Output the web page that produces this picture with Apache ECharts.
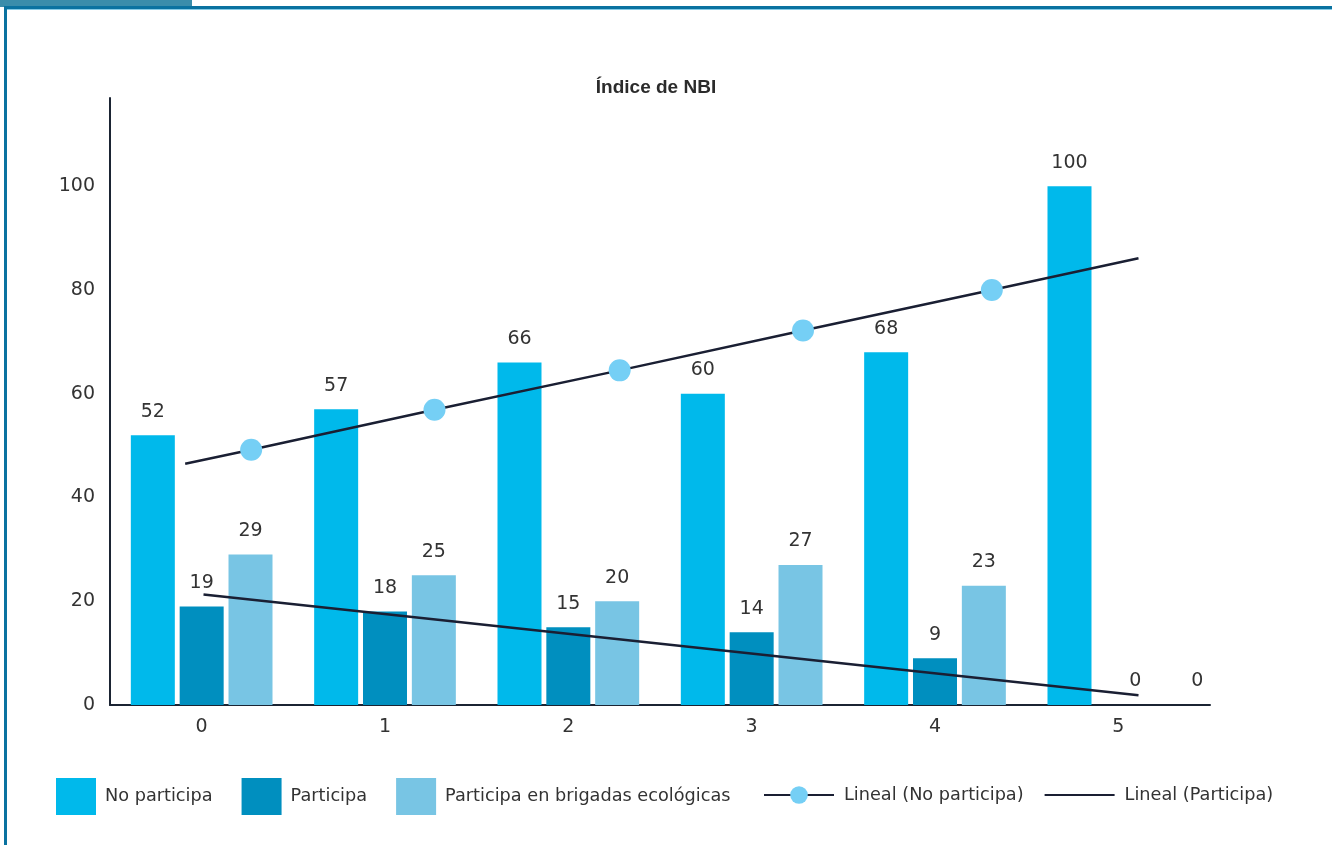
<!DOCTYPE html>
<html>
<head>
<meta charset="utf-8">
<script src="https://cdn.jsdelivr.net/npm/echarts@6/dist/echarts.min.js"></script>
<style>
  html, body { margin: 0; padding: 0; background: #fff; }
  #chart { width: 1332px; height: 845px; }
</style>
</head>
<body>
<div id="chart"></div>
<script>
// categorias del eje x
const categories = ['0', '1', '2', '3', '4', '5']
const noParticipa = [52, 57, 66, 60, 68, 100]
const participa = [19, 18, 15, 14, 9, 0]
const brigadas = [29, 25, 20, 27, 23, 0]
// lineas de tendencia (x en unidades de categoria, y en valor)
const trendNoX = [-0.09, 0.27, 1.27, 2.28, 3.28, 4.31, 5.11]
const trendNoY = [46.5, 49.2, 56.9, 64.5, 72.2, 80.0, 86.1]
const trendPartX = [0.01, 5.11]
const trendPartY = [21.3, 1.9]

const font = '"DejaVu Sans", Roboto, sans-serif'
const textColor = '#333333'
const axisColor = '#1b2433'
const trendColor = '#1a1f33'

const barLabel = {
  show: true,
  position: 'top',
  distance: 14,
  color: textColor,
  fontSize: 19,
  fontFamily: font
}

// el primer y ultimo punto de la tendencia no llevan marcador
const trendNoData = trendNoX.map((x, i) => {
  const item = { value: [x, trendNoY[i]] }
  if (i === 0 || i === trendNoX.length - 1) item.symbol = 'none'
  return item
})
const trendPartData = trendPartX.map((x, i) => [x, trendPartY[i]])

// las etiquetas en cero del ultimo grupo van algo desplazadas
const participaData = participa.map((v, i) => i === 5 ? { value: v, label: { offset: [17, 0] } } : v)
const brigadasData = brigadas.map((v, i) => i === 5 ? { value: v, label: { offset: [30, 0] } } : v)

const chart = echarts.init(document.getElementById('chart'))
chart.setOption({
  animation: false,
  backgroundColor: '#ffffff',
  title: {
    text: 'Índice de NBI',
    left: 651,
    top: 73,
    textAlign: 'center',
    textStyle: { fontSize: 19, fontWeight: 'bold', color: '#2b2b2b', fontFamily: '"Liberation Sans", Arial, sans-serif' }
  },
  graphic: [
    { type: 'rect', shape: { x: 0, y: 0, width: 192, height: 7 }, style: { fill: '#3a8dab' } },
    { type: 'rect', shape: { x: 4, y: 6, width: 1328, height: 3 }, style: { fill: '#0a72a0' } },
    { type: 'rect', shape: { x: 4, y: 9, width: 1328, height: 1 }, style: { fill: '#86cbe6' } },
    { type: 'rect', shape: { x: 4, y: 6, width: 3, height: 839 }, style: { fill: '#0a72a0' } }
  ],
  legend: [
    {
      data: ['No participa', 'Participa', 'Participa en brigadas ecológicas'],
      left: 51,
      top: 773,
      itemWidth: 40,
      itemHeight: 37,
      itemGap: 29,
      icon: 'rect',
      textStyle: { color: textColor, fontSize: 17.7, fontFamily: font, padding: [0, 0, 0, 4] }
    },
    {
      data: [
        'Lineal (No participa)',
        { name: 'Lineal (Participa)', itemStyle: { opacity: 0 } }
      ],
      left: 758,
      top: 781,
      itemWidth: 70,
      itemHeight: 22,
      itemGap: 20,
      textStyle: { color: textColor, fontSize: 17.7, fontFamily: font, padding: [0, 0, 0, 5] }
    }
  ],
  grid: { left: 110, right: 122, top: 98, bottom: 140 },
  xAxis: [
    {
      type: 'category',
      data: categories,
      axisLine: { lineStyle: { color: axisColor, width: 2 } },
      axisTick: { show: false },
      axisLabel: { color: textColor, fontSize: 19, fontFamily: font, margin: 13 }
    },
    {
      type: 'value',
      min: -0.5,
      max: 5.5,
      show: false
    }
  ],
  yAxis: {
    type: 'value',
    min: 0,
    max: 117,
    interval: 20,
    splitLine: { show: false },
    axisLine: { show: true, onZero: false, lineStyle: { color: axisColor, width: 2 } },
    axisTick: { show: false },
    axisLabel: { color: textColor, fontSize: 19, fontFamily: font, margin: 15, showMaxLabel: false }
  },
  series: [
    {
      name: 'No participa',
      type: 'bar',
      data: noParticipa,
      barWidth: 44,
      barGap: '11%',
      itemStyle: { color: '#00b9eb' },
      label: barLabel
    },
    {
      name: 'Participa',
      type: 'bar',
      data: participaData,
      barWidth: 44,
      barGap: '11%',
      itemStyle: { color: '#008fbf' },
      label: barLabel
    },
    {
      name: 'Participa en brigadas ecológicas',
      type: 'bar',
      data: brigadasData,
      barWidth: 44,
      barGap: '11%',
      itemStyle: { color: '#78c5e4' },
      label: barLabel
    },
    {
      name: 'Lineal (No participa)',
      type: 'line',
      xAxisIndex: 1,
      data: trendNoData,
      symbol: 'circle',
      symbolSize: 22,
      z: 5,
      itemStyle: { color: '#75cff5' },
      lineStyle: { color: trendColor, width: 2.5 }
    },
    {
      name: 'Lineal (Participa)',
      type: 'line',
      xAxisIndex: 1,
      data: trendPartData,
      symbol: 'none',
      z: 5,
      itemStyle: { color: trendColor },
      lineStyle: { color: trendColor, width: 2.5 }
    }
  ]
})
</script>
</body>
</html>
